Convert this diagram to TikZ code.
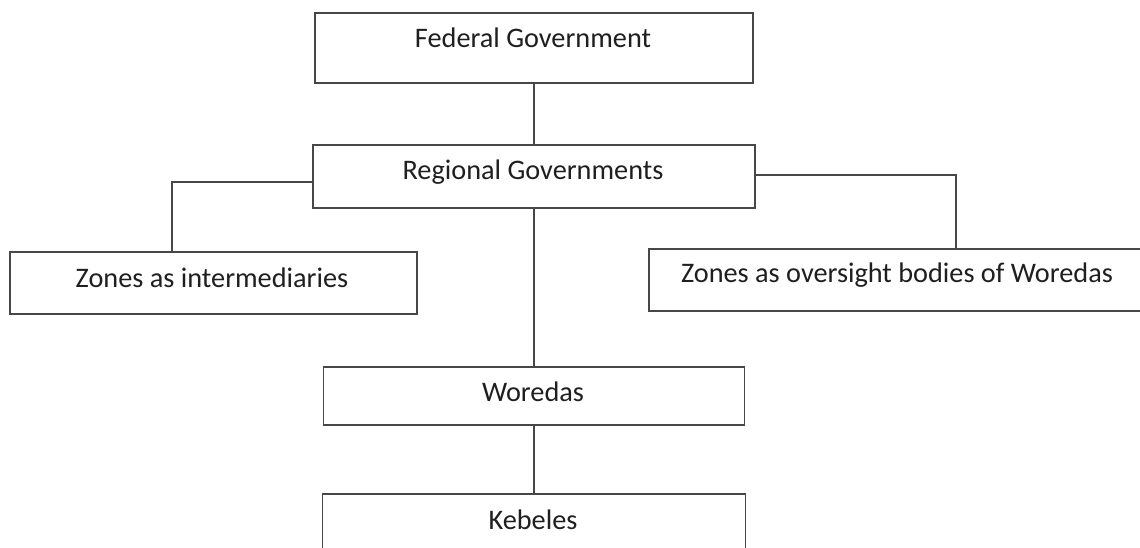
\documentclass[tikz,border=0pt]{standalone}
\usepackage{fontspec}
\setmainfont{Carlito}
\begin{document}
\begin{tikzpicture}[x=1pt,y=-1pt,
  box/.style={draw=black!72,line width=1.3pt,rectangle,inner sep=0pt,fill=white},
  txt/.style={inner sep=0pt,font=\fontsize{28.3}{32}\selectfont,text=black!88},
  conn/.style={draw=black!72,line width=1.2pt}]
\useasboundingbox (0,0) rectangle (1140,548);
\fill[white] (0,0) rectangle (1140,548);
\node[box,minimum width=438pt,minimum height=70pt] (fed) at (534,48) {};
\node[box,minimum width=442pt,minimum height=63pt] (reg) at (534,176.5) {};
\node[box,minimum width=407pt,minimum height=62pt] (zi) at (213.5,283) {};
\node[box,minimum width=501pt,minimum height=62pt] (zo) at (899.5,280) {};
\node[box,minimum width=421pt,minimum height=58pt] (wor) at (534,396) {};
\node[box,minimum width=423pt,minimum height=66pt] (keb) at (534,527) {};
\node[txt] (fedt) at (533,38) {Federal Government};
\node[txt] (regt) at (533,172) {Regional Governments};
\node[txt] (zit) at (212,278) {Zones as intermediaries};
\node[txt] (zot) at (897,275) {Zones as oversight bodies of Woredas};
\node[txt] (wort) at (533,392) {Woredas};
\node[txt] (kebt) at (533,520) {Kebeles};
\draw[conn] (fed.south) -- (fed.south |- reg.north);
\draw[conn] ([yshift=-5.5pt]reg.west) -| ([xshift=-41.5pt]zi.north);
\draw[conn] ([yshift=1.5pt]reg.east) -| ([xshift=56.5pt]zo.north);
\draw[conn] (reg.south) -- (reg.south |- wor.north);
\draw[conn] (wor.south) -- (wor.south |- keb.north);
\end{tikzpicture}
\end{document}
